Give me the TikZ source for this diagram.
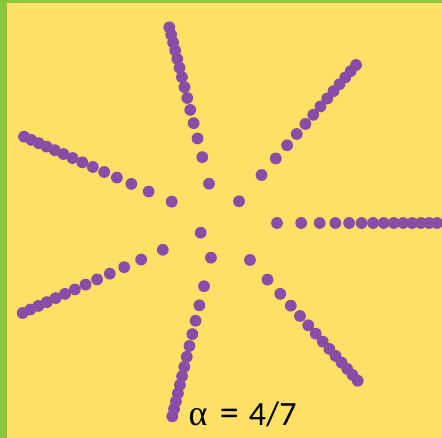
\documentclass[tikz,border=0pt]{standalone}
\usepackage{fontspec}
\setmainfont{Carlito}
\newfontfamily\alphafont{Liberation Serif}
\definecolor{bgyellow}{HTML}{FFE066}
\definecolor{edgegreen}{HTML}{8CC63F}
\definecolor{dotpurple}{HTML}{8A4CA6}
\tikzset{
  seed/.style={fill=dotpurple},
  caption/.style={font=\fontsize{34}{36}\selectfont, text=black, inner sep=0pt}
}
\begin{document}
\begin{tikzpicture}[x=1pt,y=-1pt]
\useasboundingbox (0,0) rectangle (442,438);
\clip (0,0) rectangle (442,438);
\fill[edgegreen] (0,0) rectangle (442,438);
\fill[bgyellow] (7,3) rectangle (442,438);
% spokes: first index / centre x / centre y / step x / step y
\foreach \s/\cx/\cy/\vx/\vy in {
  7/218.64/223.0/22.058/0,
  2/218.9/224.7/14.217/-16.562,
  4/219.25/224.1/-5.125/-20.189,
  6/220.6/223.2/-19.961/-8.785,
  1/221.4/223.35/-20.718/9.346,
  3/219.4/223.2/-4.860/19.917,
  5/218.15/224.3/14.242/15.962}{
  \foreach \k in {0,...,13}{
    \pgfmathsetmacro{\rt}{sqrt(\s+7*\k)}
    \fill[seed] ({\cx+\vx*\rt},{\cy+\vy*\rt}) circle (5.9);
  }
}
\node[caption, anchor=base west] (cap) at (188.5,425) {{\alphafont\fontsize{36}{36}\selectfont α}\hspace{0.36em}{\fontsize{38}{38}\selectfont =}\hspace{0.3em}4/7};
\end{tikzpicture}
\end{document}
